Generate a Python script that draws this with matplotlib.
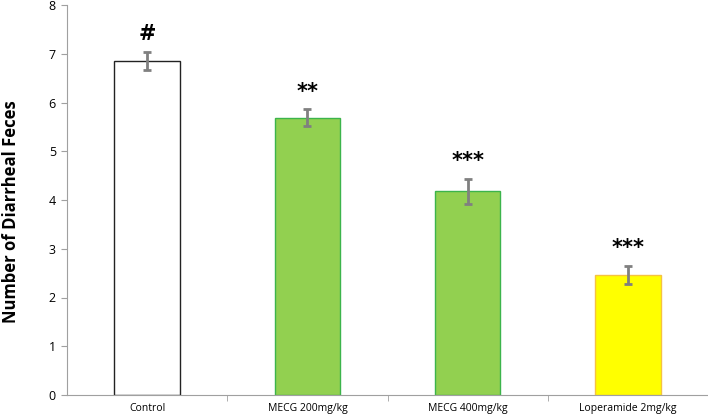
import matplotlib
matplotlib.use('Agg')
from matplotlib import pyplot as plt
import numpy as np

groups = ['Control', 'MECG 200mg/kg', 'MECG 400mg/kg', 'Loperamide 2mg/kg']
means = [6.85, 5.69, 4.18, 2.46]
errors = [0.18, 0.17, 0.26, 0.19]
marks = ['#', '**', '***', '***']
faces = ['white', '#92D050', '#92D050', '#FFFF00']
edges = ['#222222', '#3CB44B', '#3CB44B', '#F5C242']

plt.rcParams['font.family'] = ['Open Sans', 'DejaVu Sans']

fig = plt.figure(figsize=(7.08, 4.17), dpi=100)
ax = fig.add_axes([67 / 708, 1 - 395 / 417, 641 / 708, 390 / 417])

x = np.arange(len(groups))
ax.bar(x, means, width=0.41, color=faces, edgecolor=edges, linewidth=1.0, zorder=2)
ax.errorbar(x, means, yerr=errors, fmt='none', ecolor='#808080', elinewidth=2,
            capsize=3, capthick=2, zorder=3)

for xi, m, e, s in zip(x, means, errors, marks):
    ax.text(xi, m + e + 0.16, s, ha='center', va='bottom', fontsize=15,
            fontweight='bold', family='DejaVu Sans')

ax.set_xlim(-0.5, len(groups) - 0.5)
ax.set_ylim(0, 8)
ax.set_yticks(range(0, 9))
ax.tick_params(axis='y', labelsize=9, length=4, color='#A0A0A0', pad=4)
ax.set_xticks(x)
ax.set_xticklabels(groups, fontsize=7.5)
ax.tick_params(axis='x', length=0, pad=6)
ax.set_xticks(np.arange(0.5, len(groups), 1), minor=True)
ax.tick_params(axis='x', which='minor', length=4, color='#A0A0A0')

for side in ['top', 'right']:
    ax.spines[side].set_visible(False)
for side in ['left', 'bottom']:
    ax.spines[side].set_color('#A0A0A0')

ax.set_ylabel('Number of Diarrheal Feces', fontsize=12, fontweight='bold')
ax.yaxis.set_label_coords(-0.073, 0.47)

fig.savefig('out.png', dpi=100)
